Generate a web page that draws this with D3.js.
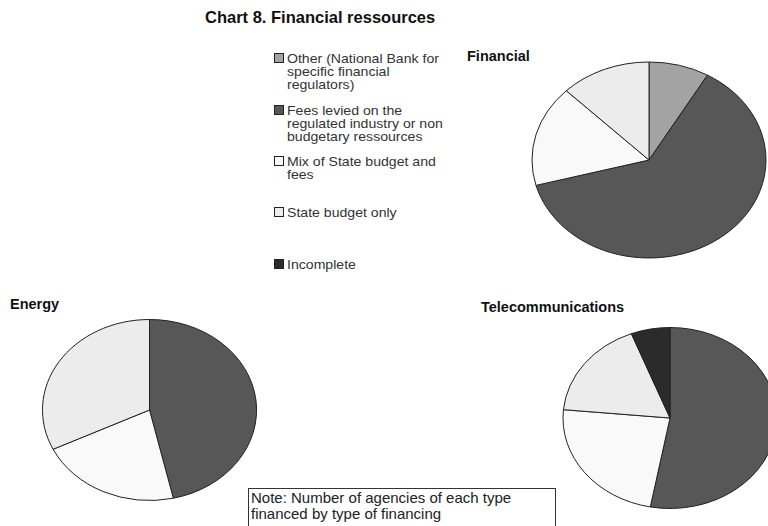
<!doctype html>
<html>
<head>
<meta charset="utf-8"/>
<title>Chart 8. Financial ressources</title>
<script src="https://d3js.org/d3.v7.min.js"></script>
<style>
  body { margin:0; background:#fff; }
  text { font-family: "Liberation Sans", Arial, sans-serif; fill:#111; }
</style>
</head>
<body>
<script>
// financing types (legend order, also slice order clockwise from 12 o'clock)
const categories = ["Other", "Fees", "Mix", "State", "Incomplete"];
const legendLines = [
  ["Other (National Bank for", "specific financial", "regulators)"],
  ["Fees levied on the", "regulated industry or non", "budgetary ressources"],
  ["Mix of State budget and", "fees"],
  ["State budget only"],
  ["Incomplete"]
];
// number of agencies by type of financing
const financial = [2, 15, 4, 3, 0];
const energy    = [0, 13, 6, 9, 0];
const telecom   = [0, 9, 4, 3, 1];

const colors = ["#a3a3a3", "#575757", "#f9f9f9", "#ececec", "#2b2b2b"];

const W = 768, H = 526;
const svg = d3.select("body").append("svg").attr("width", W).attr("height", H);

svg.append("text").attr("x", 205).attr("y", 23)
   .style("font-weight", "bold").style("font-size", "16.5px")
   .text("Chart 8. Financial ressources");

// legend
const legRows = [63, 115, 166, 217, 269];
const leg = svg.append("g");
legendLines.forEach((lines, i) => {
  leg.append("rect").attr("x", 274.5).attr("y", legRows[i] - 9.5)
     .attr("width", 9).attr("height", 9)
     .style("fill", colors[i]).style("stroke", "#222").style("stroke-width", 1);
  const t = leg.append("text").attr("x", 0).attr("y", legRows[i])
     .attr("transform", "translate(287,0) scale(1.085,1)")
     .style("font-size", "13px").style("fill", "#333");
  lines.forEach((l, j) => {
    t.append("tspan").attr("x", 0).attr("dy", j ? 13 : 0).text(l);
  });
});

const pie = d3.pie().sort(null).value(d => d);
const arc = d3.arc().innerRadius(0).outerRadius(1);

function drawPie(data, cx, cy, rx, ry, title, tx, ty) {
  svg.append("text").attr("x", tx).attr("y", ty)
     .style("font-weight", "bold").style("font-size", "14.5px").text(title);
  const g = svg.append("g").attr("transform", `translate(${cx},${cy}) scale(${rx},${ry})`);
  g.selectAll("path").data(pie(data).filter(d => d.value > 0)).enter().append("path")
   .attr("d", arc)
   .style("fill", d => colors[d.index])
   .style("stroke", "#222").style("stroke-width", 1)
   .attr("vector-effect", "non-scaling-stroke");
}

drawPie(financial, 649, 160, 117, 98, "Financial", 467, 61);
drawPie(energy, 149.5, 410, 107, 90.5, "Energy", 10, 309);
drawPie(telecom, 670, 418, 107, 90.5, "Telecommunications", 481, 312);

// note box
svg.append("rect").attr("x", 248.5).attr("y", 488.5).attr("width", 307).attr("height", 50)
   .style("fill", "#fff").style("stroke", "#333").style("stroke-width", 1);
const note = svg.append("text").attr("x", 251).attr("y", 503).style("font-size", "15px").style("fill", "#222");
note.append("tspan").attr("x", 251).attr("dy", 0).text("Note: Number of agencies of each type");
note.append("tspan").attr("x", 251).attr("dy", 16).text("financed by type of financing");
</script>
</body>
</html>
